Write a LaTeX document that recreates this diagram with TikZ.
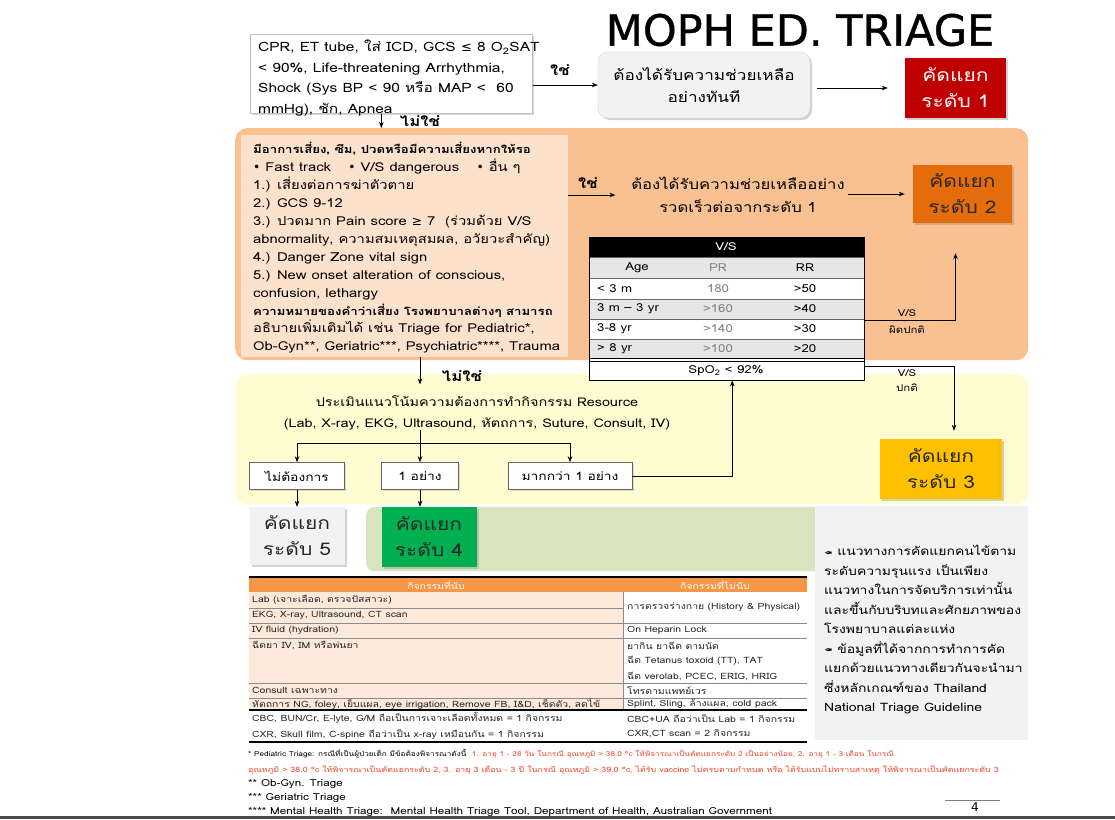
\documentclass[tikz,border=0pt]{standalone}
\usepackage{fontspec}
\setmainfont[Script=Thai,FakeStretch=1.2]{Loma}
\newfontfamily\dv{DejaVu Sans}
\newfontfamily\titlef[FakeBold=0.8]{DejaVu Sans}
\usetikzlibrary{shadows,arrows.meta}
\definecolor{orangebg}{RGB}{249,193,146}
\definecolor{peach}{RGB}{252,225,205}
\definecolor{lvAred}{RGB}{192,0,0}
\definecolor{lvBorange}{RGB}{228,108,10}
\definecolor{lvCyellow}{RGB}{255,192,0}
\definecolor{lvDgreen}{RGB}{0,176,80}
\definecolor{lvEgray}{RGB}{242,242,242}
\definecolor{yellowbg}{RGB}{254,252,208}
\definecolor{greenbg}{RGB}{216,228,190}
\definecolor{thorange}{RGB}{247,150,70}
\definecolor{tpeach}{RGB}{253,233,217}
\definecolor{notegray}{RGB}{242,242,242}
\definecolor{fnred}{RGB}{245,70,40}
\definecolor{rowgray}{RGB}{230,230,230}
\definecolor{txt}{RGB}{40,40,40}
\newcommand{\mysymle}{{\dv ≤}}
\newcommand{\mysymge}{{\dv ≥}}
\newcommand{\mybul}{{\dv •}}
\newcommand{\myicon}{\raisebox{1pt}{\rotatebox[origin=c]{180}{\dv\fontsize{10}{10}\selectfont ✒}}}
\newcommand{\mybold}[1]{{\fontsize{11}{17.9}\selectfont\textbf{#1}}}
\begin{document}
\begin{tikzpicture}[x=1pt,y=-1pt,
  arr/.style={-{Stealth[length=6pt,width=4.5pt]}, line width=0.7pt},
  ln/.style={line width=0.7pt},
  shad/.style={drop shadow={opacity=0.35,shadow xshift=2pt,shadow yshift=-2pt}},
  lvlbox/.style={align=center, inner sep=0pt, font=\fontsize{17.5}{26}\selectfont, shad},
  resbox/.style={draw=black!60, fill=white, line width=0.6pt, inner sep=0pt, minimum height=27pt, font=\fontsize{11.5}{12}\selectfont, drop shadow={opacity=0.25,shadow xshift=1.5pt,shadow yshift=-1.5pt}},
  lbl/.style={inner sep=0pt, font=\fontsize{14}{14}\selectfont\bfseries},
  vs/.style={inner sep=0pt, font=\fontsize{11}{11}\selectfont},
  vsl/.style={inner sep=0pt, font=\fontsize{9.5}{10}\selectfont},
  tc/.style={inner sep=0pt, anchor=west, font=\fontsize{8.7}{9}\selectfont, text=black!85},
  fn/.style={inner sep=0pt, anchor=west, font=\fontsize{9.7}{10}\selectfont},
  note/.style={inner sep=0pt, anchor=north west, align=left, font=\fontsize{11.6}{19.5}\selectfont}
]
\useasboundingbox (0,0) rectangle (1115,819);
\fill[white] (0,0) rectangle (1115,819);

% backgrounds
\node[fill=orangebg, rounded corners=12pt, minimum width=793pt, minimum height=232pt, anchor=north west, inner sep=0pt] (orange) at (235,128) {};
\node[fill=yellowbg, rounded corners=12pt, minimum width=793pt, minimum height=130pt, anchor=north west, inner sep=0pt] (yellow) at (235,374) {};
\node[fill=greenbg, rounded corners=8pt, minimum width=459pt, minimum height=64pt, anchor=north west, inner sep=0pt] (greenbg) at (366,507) {};
\node[fill=notegray, minimum width=213pt, minimum height=234pt, anchor=north west, inner sep=0pt] (notes) at (815,506) {};

% title
\node[inner sep=0pt, font=\titlef\fontsize{43}{43}\selectfont] (title) at (800,30) {MOPH ED. TRIAGE};

% level 1 row
\node[draw=black!25, fill=white, line width=0.6pt, anchor=north west, minimum width=282pt, minimum height=79pt, inner sep=0pt, drop shadow={opacity=0.3,shadow xshift=1.5pt,shadow yshift=-1.5pt}] (topbox) at (250,34) {};
\node[inner sep=0pt, anchor=west, align=left, font=\fontsize{12.9}{20.5}\selectfont] (toptext) at (258,78) {CPR, ET tube, ใส่ ICD, GCS \mysymle{} 8 O\textsubscript{2}SAT\\ < 90\%, Life-threatening Arrhythmia,\\ Shock (Sys BP < 90 หรือ MAP <~~60\\ mmHg), ชัก, Apnea};
\node[fill=lvEgray, draw=black!15, rounded corners=10pt, minimum width=212pt, minimum height=66pt, align=center, font=\fontsize{14.3}{22}\selectfont, shad] (gbox) at (704,85) {ต้องได้รับความช่วยเหลือ\\อย่างทันที};
\node[lvlbox, fill=lvAred, text=white, minimum width=101pt, minimum height=60pt] (lvl1) at (955.5,88) {คัดแยก\\ระดับ 1};
\draw[arr] (topbox.east |- gbox.west) -- (gbox.west);
\node[lbl] (yes1) at (560,70) {ใช่};
\draw[arr, shorten <=7pt, shorten >=17pt] (gbox.east |- lvl1.west) -- (lvl1.west);
\coordinate (n1) at ([xshift=-10pt]topbox.south);
\draw[arr] (n1) -- (n1 |- orange.north);
\node[lbl] (no1) at (420,121) {ไม่ใช่};

% level 2 area
\node[fill=peach, anchor=north west, minimum width=327pt, minimum height=222pt, inner sep=0pt] (leftbox) at (241,135) {};
\node[inner sep=0pt, anchor=west, align=left, font=\fontsize{12.3}{17.9}\selectfont] (lefttext) at (253,248) {\mybold{มีอาการเสี่ยง, ซึม, ปวดหรือมีความเสี่ยงหากให้รอ}\\
\mybul{} Fast track \quad\mybul{} V/S dangerous \quad\mybul{} อื่น ๆ\\
1.) เสี่ยงต่อการฆ่าตัวตาย\\
2.) GCS 9-12\\
3.) ปวดมาก Pain score \mysymge{} 7~~(ร่วมด้วย V/S\\
abnormality, ความสมเหตุสมผล, อวัยวะสำคัญ)\\
4.) Danger Zone vital sign\\
5.) New onset alteration of conscious,\\
confusion, lethargy\\
\mybold{ความหมายของคำว่าเสี่ยง โรงพยาบาลต่างๆ สามารถ}\\
อธิบายเพิ่มเติมได้ เช่น Triage for Pediatric*,\\
Ob-Gyn**, Geriatric***, Psychiatric****, Trauma};
\node[inner sep=0pt, align=center, font=\fontsize{13.9}{23}\selectfont] (txt2) at (738,195) {ต้องได้รับความช่วยเหลืออย่าง\\รวดเร็วต่อจากระดับ 1};
\draw[arr] (leftbox.east |- txt2.west) -- ++(47,0);
\node[lbl] (yes2) at (588,183) {ใช่};
\node[lvlbox, fill=lvBorange, text=txt, minimum width=99pt, minimum height=58pt] (lvl2) at (962.5,194) {คัดแยก\\ระดับ 2};
\draw[arr, shorten <=3pt, shorten >=8pt] (txt2.east |- lvl2.west) -- (lvl2.west);

% V/S table
\fill[black] (589,237) rectangle (864,257);
\fill[rowgray] (589,257) rectangle (864,278);
\fill[white] (589,278) rectangle (864,299);
\fill[rowgray] (589,299) rectangle (864,319);
\fill[white] (589,319) rectangle (864,339);
\fill[rowgray] (589,339) rectangle (864,358);
\fill[white] (589,358) rectangle (864,380);
\foreach \yy in {257,278,299,319,339} \draw[black!60, line width=0.6pt] (589,\yy) -- (864,\yy);
\draw[line width=0.8pt] (589,358) -- (864,358) (589,361) -- (864,361);
\node[draw, line width=0.8pt, minimum width=275pt, minimum height=143pt, anchor=north west, inner sep=0pt] (vstab) at (589,237) {};
\node[minimum width=275pt, minimum height=19pt, anchor=north west, inner sep=0pt] (spo2) at (589,361) {};
\node[vs, text=white] (vsh) at (726,247) {V/S};
\node[vs] (hage) at (637,268) {Age};
\node[vs, text=black!50] (hpr) at (718,268) {PR};
\node[vs] (hrr) at (805,268) {RR};
\node[vs, anchor=west] (a1) at (597,288.5) {< 3 m};
\node[vs, text=black!50] (p1) at (718,288.5) {180};
\node[vs] (r1) at (805,288.5) {>50};
\node[vs, anchor=west] (a2) at (597,309) {3 m – 3 yr};
\node[vs, text=black!50] (p2) at (718,309) {>160};
\node[vs] (r2) at (805,309) {>40};
\node[vs, anchor=west] (a3) at (597,329) {3-8 yr};
\node[vs, text=black!50] (p3) at (718,329) {>140};
\node[vs] (r3) at (805,329) {>30};
\node[vs, anchor=west] (a4) at (597,348.5) {> 8 yr};
\node[vs, text=black!50] (p4) at (718,348.5) {>100};
\node[vs] (r4) at (805,348.5) {>20};
\node[vs] (spt) at (726,370.5) {SpO\textsubscript{2} < 92\%};

\draw[arr, shorten >=30pt] ([yshift=-11.5pt]vstab.east) -| ([xshift=-7pt]lvl2.south);
\node[vsl] (abn1) at (907,313) {V/S};
\node[vsl] (abn2) at (907,330) {ผิดปกติ};

% level 3/4/5 area
\node[resbox, minimum width=95pt] (res1) at (297,476) {ไม่ต้องการ};
\node[resbox, minimum width=77pt] (res2) at (420,476) {1 อย่าง};
\node[resbox, minimum width=124pt] (res3) at (570,476) {มากกว่า 1 อย่าง};
\coordinate (n2) at (leftbox.south -| res2.north);
\draw[arr] (n2) -- ++(0,27);
\node[lbl] (no2) at (462,376) {ไม่ใช่};
\node[inner sep=0pt, align=center, font=\fontsize{12}{21}\selectfont] (restext) at (477,413) {ประเมินแนวโน้มความต้องการทำกิจกรรม Resource\\(Lab, X-ray, EKG, Ultrasound, หัตถการ, Suture, Consult, IV)};
\coordinate (br) at (420,443);
\draw[ln] (restext.south -| br) -- (br);
\draw[ln] (br -| res1.north) -- (br -| res3.north);
\draw[arr] (br -| res1.north) -- (res1.north);
\draw[arr] (br) -- (res2.north);
\draw[arr] (br -| res3.north) -- (res3.north);
\draw[arr] (res3.east) -| ([xshift=5.5pt]spo2.south);

\node[lvlbox, fill=lvCyellow, text=txt, minimum width=122pt, minimum height=60pt] (lvl3) at (941,469) {คัดแยก\\ระดับ 3};
\draw[arr, shorten >=8pt] ([yshift=4.5pt]spo2.east) -| ([xshift=13pt]lvl3.north);
\node[vsl] (nor1) at (907,373) {V/S};
\node[vsl] (nor2) at (907,388) {ปกติ};

\node[lvlbox, fill=lvEgray, text=txt, minimum width=95pt, minimum height=58pt] (lvl5) at (297,536) {คัดแยก\\ระดับ 5};
\node[lvlbox, fill=lvDgreen, text=txt, minimum width=95pt, minimum height=60pt] (lvl4) at (429,537) {คัดแยก\\ระดับ 4};
\draw[arr] (res1.south) -- (res1.south |- lvl5.north);
\draw[arr] (res2.south) -- (res2.south |- lvl4.north);

% notes
\node[note] (notetext) at (824,545) {\myicon{} แนวทางการคัดแยกคนไข้ตาม\\
ระดับความรุนแรง เป็นเพียง\\
แนวทางในการจัดบริการเท่านั้น\\
และขึ้นกับบริบทและศักยภาพของ\\
โรงพยาบาลแต่ละแห่ง\\
\myicon{} ข้อมูลที่ได้จากการทำการคัด\\
แยกด้วยแนวทางเดียวกันจะนำมา\\
ซึ่งหลักเกณฑ์ของ Thailand\\
National Triage Guideline};

% activity table
\fill[thorange] (249,578) rectangle (807,592);
\fill[tpeach] (249,592) rectangle (623,710);
\draw[line width=1.5pt] (249,577) -- (807,577);
\foreach \yy in {608} \draw[black!45, line width=0.5pt] (249,\yy) -- (623,\yy);
\foreach \yy in {623,638,683,698} \draw[black!45, line width=0.5pt] (249,\yy) -- (807,\yy);
\draw[black!45, line width=0.5pt] (623,592) -- (623,710);
\draw[line width=1.2pt] (249,710) -- (807,710);
\draw[line width=1.5pt] (249,742) -- (807,742);
\node[tc, anchor=center, text=white] (th1) at (436,585) {กิจกรรมที่นับ};
\node[tc, anchor=center, text=white] (th2) at (715,585) {กิจกรรมที่ไม่นับ};
\node[tc] (tl1) at (252,600) {Lab (เจาะเลือด, ตรวจปัสสาวะ)};
\node[tc] (tl2) at (252,615.5) {EKG, X-ray, Ultrasound, CT scan};
\node[tc] (tl3) at (252,630.5) {IV fluid (hydration)};
\node[tc] (tl4) at (252,645) {ฉีดยา IV, IM หรือพ่นยา};
\node[tc] (tl5) at (252,690.5) {Consult เฉพาะทาง};
\node[tc] (tl6) at (252,704) {หัตถการ NG, foley, เย็บแผล, eye irrigation, Remove FB, I\&D, เช็ดตัว, ลดไข้};
\node[tc] (tl7) at (252,718) {CBC, BUN/Cr, E-lyte, G/M ถือเป็นการเจาะเลือดทั้งหมด = 1 กิจกรรม};
\node[tc] (tl8) at (252,734) {CXR, Skull film, C-spine ถือว่าเป็น x-ray เหมือนกัน = 1 กิจกรรม};
\node[tc] (tr1) at (627,607.5) {การตรวจร่างกาย (History \& Physical)};
\node[tc] (tr2) at (627,630.5) {On Heparin Lock};
\node[tc] (tr3) at (627,646) {ยากิน ยาฉีด ตามนัด};
\node[tc] (tr4) at (627,661) {ฉีด Tetanus toxoid (TT), TAT};
\node[tc] (tr5) at (627,676) {ฉีด verolab, PCEC, ERIG, HRIG};
\node[tc] (tr6) at (627,690.5) {โทรตามแพทย์เวร};
\node[tc] (tr7) at (627,704) {Splint, Sling, ล้างแผล, cold pack};
\node[tc] (tr8) at (627,718) {CBC+UA ถือว่าเป็น Lab = 1 กิจกรรม};
\node[tc] (tr9) at (627,734) {CXR,CT scan = 2 กิจกรรม};

% footnotes
\node[fn, font=\fontsize{6.85}{8}\selectfont] (fn1) at (248,754) {* Pediatric Triage: กรณีที่เป็นผู้ป่วยเด็ก มีข้อต้องพิจารณาดังนี้~~\textcolor{fnred}{1. อายุ 1 - 28 วัน ในกรณี อุณหภูมิ > 38.0 °c ให้พิจารณาเป็นคัดแยกระดับ 2 เป็นอย่างน้อย, 2. อายุ 1 - 3 เดือน ในกรณี}};
\node[fn, font=\fontsize{7.4}{8}\selectfont, text=fnred] (fn2) at (248,770) {อุณหภูมิ > 38.0 °c ให้พิจารณาเป็นคัดแยกระดับ 2, 3. อายุ 3 เดือน - 3 ปี ในกรณี อุณหภูมิ > 39.0 °c, ได้รับ vaccine ไม่ครบตามกำหนด หรือ ได้รับแบบไม่ทราบสาเหตุ ให้พิจารณาเป็นคัดแยกระดับ 3};
\node[fn] (fn3) at (248,784) {** Ob-Gyn. Triage};
\node[fn] (fn4) at (248,798) {*** Geriatric Triage};
\node[fn] (fn5) at (248,812) {**** Mental Health Triage:~~Mental Health Triage Tool, Department of Health, Australian Government};

% page number and bottom bar
\draw[black!50, line width=0.8pt] (945,800) -- (1000,800);
\node[inner sep=0pt, anchor=north, font=\dv\fontsize{12}{12}\selectfont] (pgno) at (975,803) {4};
\fill[black!70] (0,816) rectangle (1115,819);
\end{tikzpicture}
\end{document}
